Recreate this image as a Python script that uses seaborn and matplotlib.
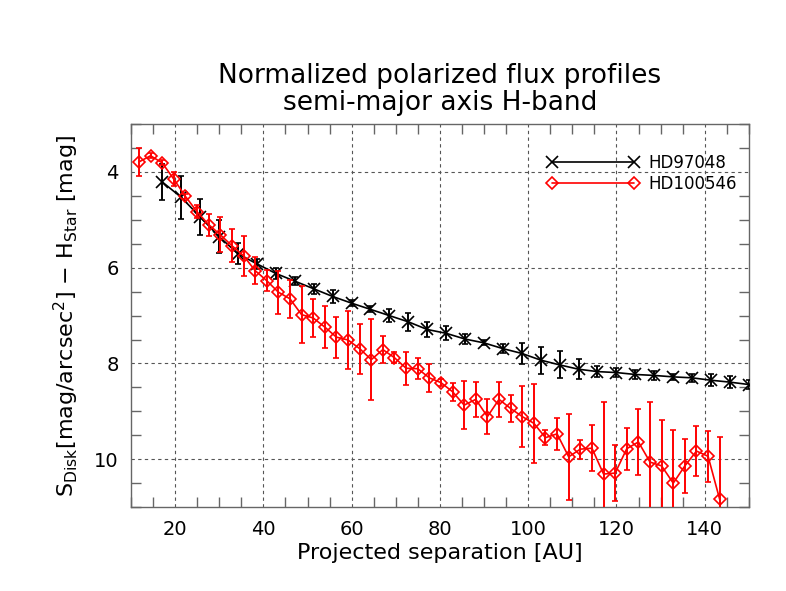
import matplotlib
matplotlib.use("Agg")
import matplotlib.pyplot as plt
from matplotlib.ticker import MultipleLocator
import numpy as np
import pandas as pd
import seaborn as sns

# HD97048 profile (projected separation in AU, surface brightness, error)
hd97048_sep = [17.10, 21.39, 25.67, 29.96, 34.25, 38.54, 42.82, 47.11, 51.40, 55.68,
               59.97, 64.26, 68.54, 72.83, 77.12, 81.41, 85.69, 89.98, 94.27, 98.55,
               102.84, 107.13, 111.41, 115.70, 119.99, 124.28, 128.56, 132.85, 137.14,
               141.42, 145.71, 150.00]
hd97048_mag = [4.21, 4.53, 4.94, 5.35, 5.71, 5.92, 6.12, 6.28, 6.44, 6.60,
               6.74, 6.87, 7.00, 7.13, 7.29, 7.37, 7.49, 7.57, 7.69, 7.79,
               7.93, 8.03, 8.12, 8.17, 8.19, 8.23, 8.25, 8.28, 8.30, 8.35,
               8.39, 8.44]
hd97048_err = [0.38, 0.45, 0.38, 0.35, 0.22, 0.10, 0.12, 0.08, 0.10, 0.14,
               0.07, 0.06, 0.14, 0.19, 0.15, 0.15, 0.10, 0.05, 0.10, 0.22,
               0.28, 0.28, 0.21, 0.12, 0.10, 0.10, 0.10, 0.06, 0.08, 0.12,
               0.12, 0.10]

# HD100546 profile
hd100546_sep = [11.80, 14.43, 17.06, 19.70, 22.33, 24.96, 27.59, 30.22, 32.86, 35.49,
                38.12, 40.75, 43.38, 46.02, 48.65, 51.28, 53.91, 56.54, 59.18, 61.81,
                64.44, 67.07, 69.70, 72.34, 74.97, 77.60, 80.23, 82.86, 85.50, 88.13,
                90.76, 93.39, 96.02, 98.66, 101.29, 103.92, 106.55, 109.18, 111.82,
                114.45, 117.08, 119.71, 122.34, 124.98, 127.61, 130.24, 132.87,
                135.50, 138.14, 140.77, 143.40]
hd100546_mag = [3.79, 3.66, 3.81, 4.15, 4.51, 4.83, 5.10, 5.31, 5.54, 5.75,
                6.06, 6.27, 6.51, 6.65, 6.98, 7.05, 7.24, 7.45, 7.51, 7.69,
                7.92, 7.71, 7.88, 8.10, 8.11, 8.30, 8.40, 8.59, 8.87, 8.75,
                9.11, 8.75, 8.94, 9.11, 9.25, 9.55, 9.47, 9.95, 9.79, 9.77,
                10.31, 10.29, 9.78, 9.64, 10.06, 10.14, 10.50, 10.14, 9.83, 9.94,
                10.84]
hd100546_err = [0.30, 0.05, 0.05, 0.14, 0.06, 0.14, 0.23, 0.36, 0.35, 0.42,
                0.28, 0.22, 0.45, 0.40, 0.59, 0.40, 0.43, 0.43, 0.60, 0.52,
                0.84, 0.28, 0.12, 0.34, 0.22, 0.29, 0.08, 0.19, 0.50, 0.36,
                0.36, 0.36, 0.28, 0.63, 0.82, 0.15, 0.34, 0.90, 0.20, 0.48,
                1.50, 0.58, 0.44, 0.69, 1.25, 0.95, 1.10, 0.57, 0.53, 0.53,
                1.30]

df_a = pd.DataFrame({"sep": hd97048_sep, "mag": hd97048_mag, "err": hd97048_err})
df_b = pd.DataFrame({"sep": hd100546_sep, "mag": hd100546_mag, "err": hd100546_err})

sns.set_theme(style="white")
plt.rcParams["font.family"] = ["DejaVu Sans"]
plt.rcParams["text.color"] = "black"
plt.rcParams["axes.labelcolor"] = "black"

fig = plt.figure(figsize=(7.86, 5.91), dpi=100)
ax = fig.add_axes([0.1667, 0.142, 0.786, 0.648])

# black series
sns.lineplot(data=df_a, x="sep", y="mag", ax=ax, color="black", marker="x",
             markersize=8, markeredgewidth=1.2, markeredgecolor="black",
             linewidth=1.2, label="HD97048", sort=False, zorder=3)
ax.errorbar(df_a["sep"], df_a["mag"], yerr=df_a["err"], fmt="none",
            ecolor="black", elinewidth=1.4, capsize=2.5, capthick=1.2, zorder=3)

# red series
sns.lineplot(data=df_b, x="sep", y="mag", ax=ax, color="red", marker="D",
             markersize=6, markerfacecolor="none", markeredgecolor="red",
             markeredgewidth=1.2, linewidth=1.2, label="HD100546", sort=False,
             zorder=4)
ax.errorbar(df_b["sep"], df_b["mag"], yerr=df_b["err"], fmt="none",
            ecolor="red", elinewidth=1.4, capsize=2.5, capthick=1.2, zorder=4)

ax.set_xlim(10, 150)
ax.set_ylim(11, 3)
ax.xaxis.set_major_locator(MultipleLocator(20))
ax.xaxis.set_minor_locator(MultipleLocator(5))
ax.yaxis.set_major_locator(MultipleLocator(2))
ax.yaxis.set_minor_locator(MultipleLocator(0.5))

ax.grid(True, which="major", color="#555555", linestyle=(0, (3, 3)), linewidth=0.8)
ax.tick_params(which="major", length=0, labelsize=14, pad=9, colors="black")
ax.tick_params(which="minor", direction="in", length=7, width=1,
               color="#666666", top=True, right=True, bottom=True, left=True)
for s in ax.spines.values():
    s.set_color("#666666")
    s.set_linewidth(1.0)

ax.set_xlabel("Projected separation [AU]", fontsize=16, labelpad=3)
ax.set_ylabel(r"S$_{\rm Disk}$[mag/arcsec$^{2}$] $-$ H$_{\rm Star}$ [mag]",
              fontsize=16, labelpad=9)
ax.set_title("Normalized polarized flux profiles\nsemi-major axis H-band",
             fontsize=19, pad=10, linespacing=1.05, color="black")

ax.legend(loc="upper left", bbox_to_anchor=(0.66, 0.945), frameon=False,
          numpoints=2, handlelength=5.5, handletextpad=0.6, labelspacing=0.2,
          fontsize=12, borderpad=0)

fig.savefig("out.png", dpi=100)
